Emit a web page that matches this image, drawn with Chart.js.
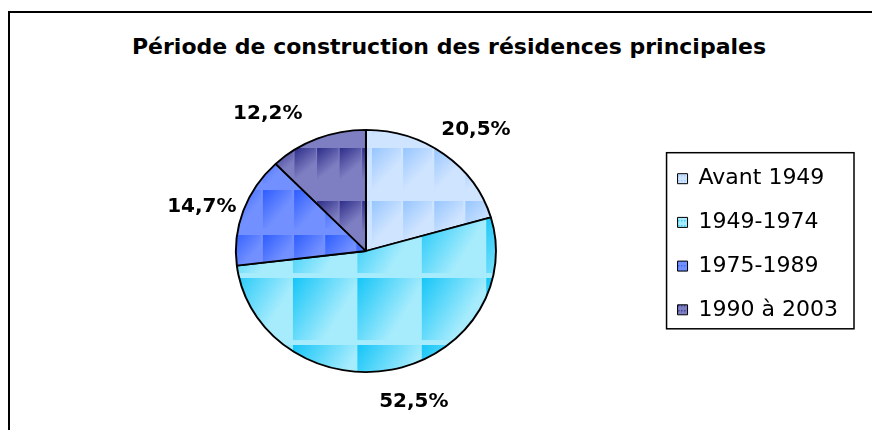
<!DOCTYPE html>
<html>
<head>
<meta charset="utf-8">
<script src="https://cdn.jsdelivr.net/npm/chart.js@4"></script>
<style>
  html, body { margin: 0; padding: 0; background: #fff; }
  #wrap { position: relative; width: 872px; height: 430px; overflow: hidden; }
  #frame { position: absolute; left: 8px; top: 11px; width: 900px; height: 500px; border: 2px solid #000; }
  #title { position: absolute; left: 0; top: 34px; width: 898px; text-align: center;
           font: bold 22px "DejaVu Sans"; color: #000; }
  canvas { position: absolute; left: 0; top: 0; }
</style>
</head>
<body>
<div id="wrap">
  <div id="frame"></div>
  <div id="title">Période de construction des résidences principales</div>
  <canvas id="chart" width="872" height="430"></canvas>
</div>
<script>
const categories = ['Avant 1949', '1949-1974', '1975-1989', '1990 à 2003'];
const shares = [20.5, 52.5, 14.7, 12.2];

// textured fills: light base with a gradient block repeated on a grid
const textures = [
  { base: '#cfe4ff', dark: '#96c6ff', w: 29, h: 53, bw: 27, bh: 42, ox: 372, oy: 148 },
  { base: '#a6ecfd', dark: '#16c6f8', w: 60, h: 67, bw: 60, bh: 62, ox: 293, oy: 278 },
  { base: '#7290ff', dark: '#2f5eff', w: 29, h: 45, bw: 27, bh: 38, ox: 263, oy: 190 },
  { base: '#7e7ec2', dark: '#2e2e8a', w: 21, h: 53, bw: 20, bh: 40, ox: 272, oy: 148 }
];
const SX = 131 / 122;      // pie is drawn slightly wider than tall
const labelNudge = [[-1, -1], [11, 4], [10, 6], [-29, 2]];

const canvas = document.getElementById('chart');
const ctx = canvas.getContext('2d');

function makeTile(t, w, h, bw, bh) {
    const c = document.createElement('canvas');
    c.width = w;
    c.height = h;
    const g = c.getContext('2d');
    g.fillStyle = t.base;
    g.fillRect(0, 0, w, h);
    const grad = g.createLinearGradient(0, 0, bw * 0.8, bh * 0.45);
    grad.addColorStop(0, t.dark);
    grad.addColorStop(1, t.base);
    g.fillStyle = grad;
    g.fillRect(0, 0, bw, bh);
    return c;
}

const PIE_CX = 365;
const slicePatterns = textures.map(t => {
    const p = ctx.createPattern(makeTile(t, t.w, t.h, t.bw, t.bh), 'repeat');
    p.setTransform(new DOMMatrix().translate((t.ox - PIE_CX) / SX + PIE_CX, t.oy));
    return p;
});
const legendPatterns = textures.map(t => ctx.createPattern(makeTile(t, 3, 5, 2, 4), 'repeat'));

function fmt(v) {
    return v.toFixed(1).replace('.', ',') + '%';
}

const ellipsePie = {
    id: 'ellipsePie',
    beforeDatasetsDraw(chart) {
        const arc = chart.getDatasetMeta(0).data[0];
        const c = chart.ctx;
        c.save();
        c.translate(arc.x, 0);
        c.scale(SX, 1);
        c.translate(-arc.x, 0);
    },
    afterDatasetsDraw(chart) {
        const c = chart.ctx;
        c.restore();
        // percentage labels outside each slice
        c.save();
        c.font = 'bold 20px "DejaVu Sans"';
        c.fillStyle = '#000';
        c.textAlign = 'center';
        c.textBaseline = 'middle';
        chart.getDatasetMeta(0).data.forEach((arc, i) => {
            const mid = (arc.startAngle + arc.endAngle) / 2;
            const dx = Math.cos(mid), dy = Math.sin(mid);
            const r = arc.outerRadius;
            const txt = fmt(shares[i]);
            const hw = c.measureText(txt).width / 2, hh = 9;
            const gap = 20;
            const x = arc.x + dx * (r * SX + gap) + dx * hw + labelNudge[i][0];
            const y = arc.y + dy * (r + gap) + dy * hh + labelNudge[i][1];
            c.fillText(txt, x, y);
        });
        c.restore();
    }
};

const legendFrame = {
    id: 'legendFrame',
    afterDraw(chart) {
        const hb = chart.legend.legendHitBoxes;
        if (!hb || !hb.length) return;
        const last = hb[hb.length - 1];
        const left = hb[0].left - 11;
        const top = hb[0].top - 15;
        const right = Math.max(...hb.map(b => b.left + b.width)) + 16;
        const bottom = last.top + last.height + 8;
        const c = chart.ctx;
        c.save();
        c.strokeStyle = '#000';
        c.lineWidth = 1.5;
        c.strokeRect(left, top, right - left, bottom - top);
        c.restore();
    }
};

new Chart(ctx, {
    type: 'pie',
    data: {
        labels: categories,
        datasets: [{
            data: shares,
            backgroundColor: slicePatterns,
            borderColor: '#000',
            borderWidth: 1.8
        }]
    },
    options: {
        responsive: false,
        animation: false,
        events: [],
        layout: { padding: { top: 129, bottom: 57, left: 76, right: 24 } },
        plugins: {
            title: { display: false },
            tooltip: { enabled: false },
            legend: {
                position: 'right',
                align: 'start',
                title: { display: true, text: '', font: { size: 10 }, padding: { top: 0, bottom: 5 } },
                labels: {
                    boxWidth: 10,
                    boxHeight: 10,
                    padding: 21.7,
                    color: '#000',
                    font: { family: 'DejaVu Sans', size: 22 },
                    generateLabels(chart) {
                        return categories.map((text, i) => ({
                            text,
                            fillStyle: legendPatterns[i],
                            strokeStyle: '#000',
                            lineWidth: 1,
                            fontColor: '#000',
                            index: i,
                            hidden: false
                        }));
                    }
                }
            }
        }
    },
    plugins: [ellipsePie, legendFrame]
});
</script>
</body>
</html>
